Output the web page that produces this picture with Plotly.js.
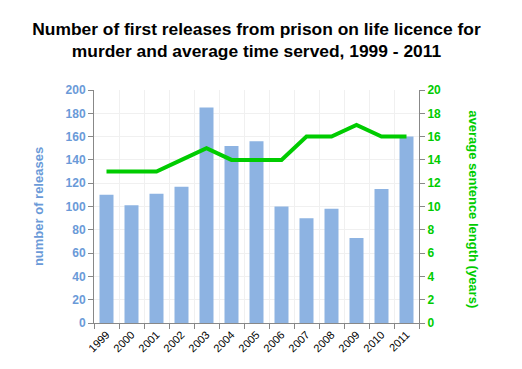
<!DOCTYPE html>
<html><head><meta charset="utf-8">
<script src="https://cdn.plot.ly/plotly-3.0.1.min.js"></script>
<style>body{margin:0;padding:0;background:#fff}#chart{width:522px;height:369px}</style>
</head><body><div id="chart"></div>
<script>
const years = ["1999","2000","2001","2002","2003","2004","2005","2006","2007","2008","2009","2010","2011"];
const releases = [110,101,111,117,185,152,156,100,90,98,73,115,160];
const avgSentence = [13,13,13,14,15,14,14,14,16,16,17,16,16];

const blue = "#8db3e2";
const blueText = "#6a9ad8";
const green = "#00cc00";

const data = [
  {type:"bar", x:years, y:releases, marker:{color:blue}, name:"number of releases"},
  {type:"scatter", mode:"lines", x:years, y:avgSentence, yaxis:"y2", line:{color:green, width:4}, name:"average sentence length"}
];
const layout = {
  width:522, height:369,
  margin:{l:94, r:103, t:90, b:46},
  paper_bgcolor:"#fff", plot_bgcolor:"#fff",
  showlegend:false,
  bargap:0.44,
  font:{family:"Liberation Sans, Arial, sans-serif"},
  title:{text:"<b>Number of first releases from prison on life licence for<br>murder and average time served, 1999 - 2011</b>",
    font:{size:17.4, color:"#000"}, x:0.5, xanchor:"center", xref:"paper", yref:"container", y:0.906, yanchor:"middle"},
  xaxis:{type:"category", tickson:"boundaries", showgrid:true, gridcolor:"#f0f0f0",
    showline:true, linecolor:"#888", linewidth:1, ticks:"outside", ticklen:5, tickcolor:"#888",
    tickangle:-45, tickfont:{size:11, color:"#000"}},
  yaxis:{range:[0,200], dtick:20, showgrid:true, gridcolor:"#f0f0f0", zeroline:false,
    showline:true, linecolor:"#888", ticks:"outside", ticklen:5, tickcolor:"#888",
    tickfont:{size:12, color:blueText, weight:"bold"},
    title:{text:"<b>number of releases</b>", font:{size:13, color:blueText}, standoff:19}},
  yaxis2:{overlaying:"y", side:"right", range:[0,20], dtick:2, showgrid:false, zeroline:false,
    showline:true, linecolor:"#888", ticks:"outside", ticklen:5, tickcolor:"#888",
    tickfont:{size:12, color:green, weight:"bold"}},
  annotations:[{text:"<b>average sentence length (years)</b>", textangle:90, showarrow:false,
    xref:"paper", yref:"paper", x:1.168, y:0.49, xanchor:"center", yanchor:"middle",
    font:{size:13, color:green}}]
};
Plotly.newPlot("chart", data, layout, {displayModeBar:false, staticPlot:true});
</script></body></html>
